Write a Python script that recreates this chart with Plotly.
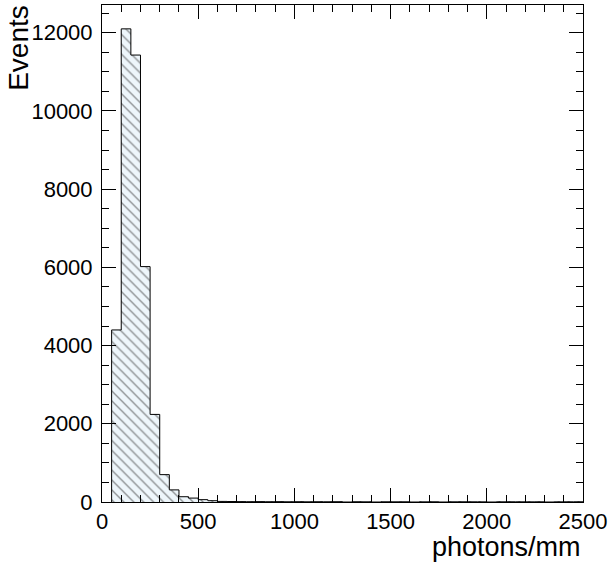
import plotly.graph_objects as go

# Histogram: bin lower edges (photons/mm), bin width 50
bin_width = 50
bin_edges_low = list(range(50, 2500, 50))
counts = [
    4400, 12100, 11430, 6020, 2240, 700, 310, 135, 100, 60, 33, 15,
    12, 10, 8, 10, 7, 9, 6, 8, 5, 7, 6, 8, 0, 7, 5, 0, 6, 5, 6, 0,
    4, 6, 0, 5, 6, 5, 4, 0, 5, 6, 5, 4, 5, 0, 4, 5, 6,
]

x_range = [0, 2500]
y_range = [0, 12710]

centers = [e + bin_width / 2 for e in bin_edges_low]

fig = go.Figure()
fig.add_trace(go.Bar(
    x=centers, y=counts, width=bin_width,
    marker=dict(
        color="#eef6fb",
        line=dict(width=0),
        pattern=dict(shape="\\", fgcolor="#2e2e2e", size=7, solidity=0.2,
                     fillmode="overlay"),
    ),
    hoverinfo="skip", showlegend=False,
))

# outline as step line
step_x = [bin_edges_low[0]] + bin_edges_low + [bin_edges_low[-1] + bin_width]
step_y = [0] + counts + [counts[-1]]
fig.add_trace(go.Scatter(
    x=step_x, y=step_y, mode="lines", line=dict(color="black", width=1, shape="hv"),
    hoverinfo="skip", showlegend=False,
))

axis_common = dict(
    showgrid=False, zeroline=False, showline=True, linecolor="black", linewidth=1,
    mirror="ticks", ticks="inside", ticklen=14, tickcolor="black", tickwidth=1,
    tickformat="d",
    tickfont=dict(family="Liberation Sans, Arial, sans-serif", size=22, color="black"),
)

fig.update_xaxes(range=x_range, dtick=500, tick0=0,
                 minor=dict(ticks="inside", ticklen=7, dtick=100, tickcolor="black"),
                 **axis_common)
fig.update_yaxes(range=y_range, dtick=2000, tick0=0, ticklabelstandoff=4,
                 minor=dict(ticks="inside", ticklen=7, dtick=500, tickcolor="black"),
                 **axis_common)

fig.add_annotation(text="Events", textangle=-90, xref="paper", yref="paper",
                   x=-0.175, y=1.004, xanchor="center", yanchor="top", showarrow=False,
                   font=dict(family="Liberation Sans, Arial, sans-serif", size=28, color="black"))
fig.add_annotation(text="photons/mm", xref="paper", yref="paper",
                   x=1.0, y=-0.124, xanchor="right", yanchor="bottom", showarrow=False,
                   font=dict(family="Liberation Sans, Arial, sans-serif", size=27, color="black"))

fig.update_layout(
    width=616, height=562,
    margin=dict(l=102, r=33, t=5, b=60),
    plot_bgcolor="white", paper_bgcolor="white",
    bargap=0,
)

fig.write_html("out.html")
